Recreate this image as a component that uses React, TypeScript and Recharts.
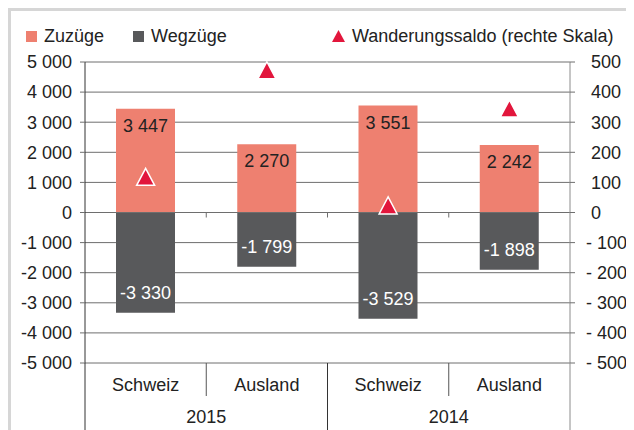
import React from "react";
import {
  Bar,
  CartesianGrid,
  ComposedChart,
  Line,
  ReferenceLine,
  XAxis,
  YAxis,
} from "recharts";

const LANDS = ["Schweiz", "Ausland", "Schweiz", "Ausland"];
const YEARS = ["2015", "2015", "2014", "2014"];
const ZUZUEGE = [3447, 2270, 3551, 2242];
const WEGZUEGE = [-3330, -1799, -3529, -1898];
const SALDO = [117, 471, 22, 344];
const LEFT_TICKS = [-5000, -4000, -3000, -2000, -1000, 0, 1000, 2000, 3000, 4000, 5000];
const RIGHT_TICKS = [-500, -400, -300, -200, -100, 0, 100, 200, 300, 400, 500];

const ZU_COLOR = "#ee8070";
const WEG_COLOR = "#58595b";
const SALDO_COLOR = "#e2163c";
const GRID = "#6e6e6e";
const TEXT = "#222222";
const FONT = "'Liberation Sans', Arial, sans-serif";

const data = LANDS.map((land, i) => ({
  id: `${YEARS[i]} ${land}`,
  zu: ZUZUEGE[i],
  weg: WEGZUEGE[i],
  saldo: SALDO[i],
}));

const fmt = (v: number) =>
  (v < 0 ? "-" : "") + String(Math.abs(v)).replace(/\B(?=(\d{3})+(?!\d))/g, " ");

function barLabel(inside: "top" | "bottom", color: string) {
  return (props: any) => {
    const { x, y, width, height, value } = props;
    const top = Math.min(y, y + height);
    const bottom = Math.max(y, y + height);
    const ty = inside === "top" ? top + 17 : bottom - 20;
    return (
      <text
        x={x + width / 2}
        y={ty}
        dy="0.35em"
        textAnchor="middle"
        fill={color}
        fontSize={18}
        fontFamily={FONT}
      >
        {fmt(Number(value))}
      </text>
    );
  };
}

function Triangle(props: any) {
  const { cx, cy, index } = props;
  if (cx == null || cy == null) return <g key={index} />;
  return (
    <polygon
      key={index}
      points={`${cx},${cy - 9} ${cx + 9},${cy + 8} ${cx - 9},${cy + 8}`}
      fill={SALDO_COLOR}
      stroke="#fff"
      strokeWidth={1.5}
    />
  );
}

function LandTick(props: any) {
  const { x, y, payload } = props;
  const i = props.index ?? payload.index;
  const half = payload?.offset ?? 60.6;
  return (
    <g fontFamily={FONT} fontSize={18} fill={TEXT}>
      <text x={x} y={y + 22} dy="0.35em" textAnchor="middle">
        {LANDS[i]}
      </text>
      {i % 2 === 0 && (
        <>
          <line x1={x + half} x2={x + half} y1={y} y2={y + 33} stroke="#555" />
          <text x={x + half} y={y + 54} dy="0.35em" textAnchor="middle">
            {YEARS[i]}
          </text>
        </>
      )}
      {i === 0 && <line x1={x - half} x2={x - half} y1={y} y2={y + 70} stroke="#333" />}
      {i % 2 === 1 && (
        <line
          x1={x + half}
          x2={x + half}
          y1={y}
          y2={y + 70}
          stroke={i === 3 ? "#8c8c8c" : "#333"}
        />
      )}
    </g>
  );
}

function LeftTick(props: any) {
  const { x, y, payload } = props;
  return (
    <text x={x} y={y} dy="0.35em" textAnchor="end" fill={TEXT} fontSize={18} fontFamily={FONT}>
      {fmt(payload.value)}
    </text>
  );
}

function RightTick(props: any) {
  const { x, y, payload } = props;
  const v = payload.value;
  return (
    <text
      x={x + (v < 0 ? 0 : 5)}
      y={y}
      dy="0.35em"
      textAnchor="start"
      fill={TEXT}
      fontSize={18}
      fontFamily={FONT}
    >
      {v < 0 ? `- ${-v}` : String(v)}
    </text>
  );
}

function ZeroLine(props: any) {
  const { x1, x2, y1 } = props;
  const step = (x2 - x1) / LANDS.length;
  return (
    <g>
      <line x1={x1} x2={x2} y1={y1} y2={y1} stroke={GRID} />
      {LANDS.slice(1).map((_, k) => (
        <line
          key={k}
          x1={x1 + (k + 1) * step}
          x2={x1 + (k + 1) * step}
          y1={y1}
          y2={y1 + 5}
          stroke={GRID}
        />
      ))}
    </g>
  );
}

function LegendItem({
  left,
  marker,
  label,
}: {
  left: number;
  marker: React.ReactNode;
  label: string;
}) {
  return (
    <div
      style={{
        position: "absolute",
        left,
        top: 17,
        height: 22,
        display: "flex",
        alignItems: "center",
        gap: 7,
        fontSize: 18,
        fontFamily: FONT,
        color: TEXT,
        whiteSpace: "nowrap",
      }}
    >
      {marker}
      <span>{label}</span>
    </div>
  );
}

export default function App() {
  return (
    <div style={{ position: "relative", width: 626, height: 422, overflow: "hidden" }}>
      <div
        style={{
          position: "absolute",
          left: -1,
          top: -1,
          width: 700,
          height: 500,
          border: "4px solid #d6d6d6",
        }}
      />
      <LegendItem
        left={18}
        label="Zuzüge"
        marker={<span style={{ width: 11, height: 11, background: ZU_COLOR }} />}
      />
      <LegendItem
        left={125}
        label="Wegzüge"
        marker={<span style={{ width: 11, height: 11, background: WEG_COLOR }} />}
      />
      <LegendItem
        left={324}
        label="Wanderungssaldo (rechte Skala)"
        marker={
          <svg width={13} height={12}>
            <polygon points="6.5,0 13,12 0,12" fill={SALDO_COLOR} />
          </svg>
        }
      />
      <div style={{ position: "absolute", left: 3, top: 3 }}>
        <ComposedChart
          width={623}
          height={419}
          data={data}
          margin={{ top: 51, right: 14, bottom: 0, left: 14 }}
          stackOffset="sign"
        >
          <CartesianGrid vertical={false} stroke={GRID} yAxisId="left" />
          <XAxis
            dataKey="id"
            height={67}
            axisLine={false}
            tickLine={false}
            tickSize={0}
            tickMargin={0}
            interval={0}
            tick={<LandTick />}
          />
          <YAxis
            yAxisId="left"
            width={60}
            domain={[-5000, 5000]}
            ticks={LEFT_TICKS}
            interval={0}
            axisLine={{ stroke: "#333" }}
            tickLine={{ stroke: GRID }}
            tickSize={5}
            tickMargin={8}
            tick={<LeftTick />}
          />
          <YAxis
            yAxisId="right"
            orientation="right"
            width={50}
            domain={[-500, 500]}
            ticks={RIGHT_TICKS}
            interval={0}
            axisLine={{ stroke: "#8c8c8c" }}
            tickLine={{ stroke: GRID }}
            tickSize={5}
            tickMargin={11}
            tick={<RightTick />}
          />
          <Bar
            yAxisId="left"
            dataKey="zu"
            stackId="s"
            fill={ZU_COLOR}
            barSize={59}
            isAnimationActive={false}
            label={barLabel("top", TEXT)}
          />
          <Bar
            yAxisId="left"
            dataKey="weg"
            stackId="s"
            fill={WEG_COLOR}
            barSize={59}
            isAnimationActive={false}
            label={barLabel("bottom", "#ffffff")}
          />
          <ReferenceLine yAxisId="left" y={0} shape={<ZeroLine />} />
          <Line
            yAxisId="right"
            dataKey="saldo"
            stroke="none"
            dot={(p: any) => <Triangle {...p} />}
            activeDot={false}
            isAnimationActive={false}
          />
        </ComposedChart>
      </div>
    </div>
  );
}
